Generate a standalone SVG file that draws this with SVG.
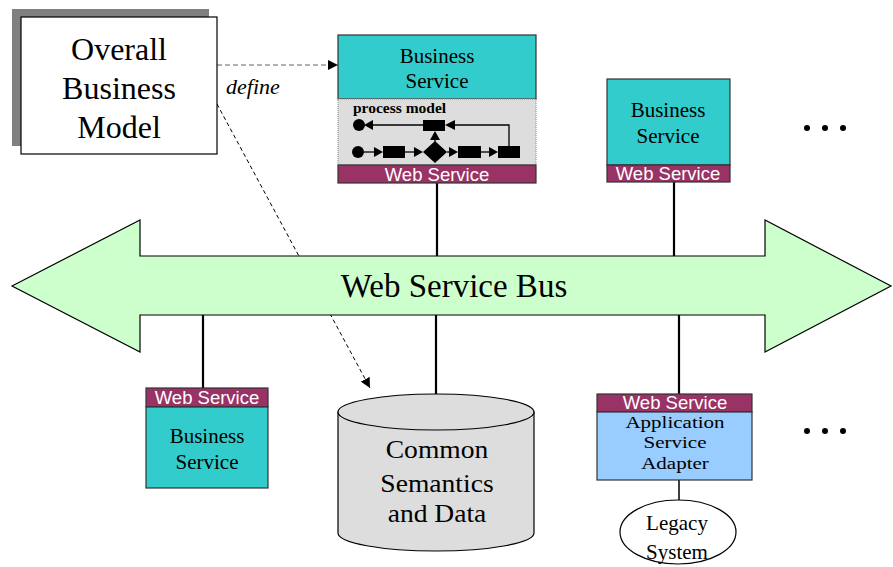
<svg xmlns="http://www.w3.org/2000/svg" width="893" height="567" viewBox="0 0 893 567">
  <style>
    .serif { font-family: "Liberation Serif", "Times New Roman", serif; fill: #000; }
    .ws { font-family: "Liberation Sans", Arial, sans-serif; fill: #fff; font-size: 18.5px; text-anchor: middle; }
    .teal { fill: #33cccc; stroke: #333; stroke-width: 1.2; }
    .wsbar { fill: #993366; stroke: #333; stroke-width: 1.2; }
    .link { stroke: #000; stroke-width: 2.2; fill: none; }
    .pm { fill: #000; }
    .pmline { stroke: #000; stroke-width: 1.3; fill: none; }
  </style>
  <defs>
    <marker id="arrow" viewBox="0 0 10 10" refX="10" refY="5" markerWidth="10" markerHeight="10" markerUnits="userSpaceOnUse" orient="auto">
      <path d="M0,0 L10,5 L0,10 Z" fill="#000"/>
    </marker>
  </defs>

  <!-- dashed "define" relations (drawn under the bus) -->
  <g id="connectors-define">
    <line x1="217" y1="65" x2="338" y2="65" stroke="#666" stroke-width="1.2" stroke-dasharray="5,3" marker-end="url(#arrow)"/>
    <line x1="217" y1="104" x2="370" y2="388" stroke="#000" stroke-width="1" stroke-dasharray="4,3" marker-end="url(#arrow)"/>
    <text x="226" y="94" class="serif" font-style="italic" font-size="22">define</text>
  </g>

  <!-- vertical links to the bus -->
  <g id="connectors">
    <line class="link" x1="437" y1="183" x2="437" y2="258"/>
    <line class="link" x1="674" y1="182" x2="674" y2="258"/>
    <line class="link" x1="203" y1="314" x2="203" y2="388"/>
    <line class="link" x1="436" y1="314" x2="436" y2="395"/>
    <line class="link" x1="679" y1="314" x2="679" y2="394"/>
    <line stroke="#000" stroke-width="1.5" x1="679" y1="480" x2="679" y2="500"/>
  </g>

  <!-- Web Service Bus -->
  <g id="bus">
    <polygon points="12,286 140,220 140,256 765,256 765,220 891,286 765,352 765,315 140,315 140,352" fill="#ccffcc" stroke="#000" stroke-width="1.2" stroke-linejoin="miter"/>
    <text x="454" y="297" class="serif" font-size="33" text-anchor="middle">Web Service Bus</text>
  </g>

  <!-- Overall Business Model -->
  <g id="overall-model">
    <rect x="12" y="9" width="197" height="137" fill="#808080"/>
    <rect x="21" y="17" width="196" height="137" fill="#fff" stroke="#000" stroke-width="1.2"/>
    <g class="serif" font-size="32" text-anchor="middle">
      <text x="119" y="60">Overall</text>
      <text x="119" y="99">Business</text>
      <text x="119" y="138">Model</text>
    </g>
  </g>

  <!-- Business Service with process model -->
  <g id="business-service-1">
    <rect class="teal" x="338" y="35" width="198" height="64"/>
    <rect x="338" y="99" width="198" height="66" fill="#dddddd" stroke="#888" stroke-width="1" stroke-dasharray="1,1"/>
    <rect class="wsbar" x="338" y="165" width="198" height="18"/>
    <g class="serif" font-size="21" text-anchor="middle">
      <text x="437" y="63">Business</text>
      <text x="437" y="88">Service</text>
    </g>
    <text x="353" y="113" class="serif" font-size="15.5" font-weight="bold">process model</text>
    <text x="437" y="181" class="ws">Web Service</text>
    <g id="process-model">
      <!-- return path -->
      <circle class="pm" cx="359" cy="125" r="6"/>
      <line class="pmline" x1="423" y1="125" x2="371" y2="125"/>
      <polygon class="pm" points="364,125 373,120 373,130"/>
      <rect class="pm" x="423" y="120" width="22" height="11"/>
      <polyline class="pmline" points="509,146 509,125 454,125"/>
      <polygon class="pm" points="445,125 455,120 455,130"/>
      <line class="pmline" x1="435" y1="142" x2="435" y2="138"/>
      <polygon class="pm" points="435,131 430,140 440,140"/>
      <!-- main flow -->
      <circle class="pm" cx="358" cy="152" r="6"/>
      <line class="pmline" x1="364" y1="152" x2="375" y2="152"/>
      <polygon class="pm" points="383,152 374,147 374,157"/>
      <rect class="pm" x="383" y="146" width="22" height="12"/>
      <line class="pmline" x1="405" y1="152" x2="415" y2="152"/>
      <polygon class="pm" points="423,152 414,147 414,157"/>
      <polygon class="pm" points="423,152 435,141 447,152 435,163"/>
      <line class="pmline" x1="447" y1="152" x2="450" y2="152"/>
      <polygon class="pm" points="458,152 449,147 449,157"/>
      <rect class="pm" x="458" y="146" width="23" height="12"/>
      <line class="pmline" x1="481" y1="152" x2="490" y2="152"/>
      <polygon class="pm" points="498,152 489,147 489,157"/>
      <rect class="pm" x="498" y="146" width="22" height="12"/>
    </g>
  </g>

  <!-- Business Service (top right) -->
  <g id="business-service-2">
    <rect class="teal" x="607" y="79" width="123" height="86"/>
    <rect class="wsbar" x="607" y="165" width="123" height="17"/>
    <g class="serif" font-size="21" text-anchor="middle">
      <text x="668" y="117">Business</text>
      <text x="668" y="143">Service</text>
    </g>
    <text x="668" y="180" class="ws">Web Service</text>
  </g>

  <!-- Business Service (bottom left) -->
  <g id="business-service-3">
    <rect class="wsbar" x="146" y="388" width="122" height="19"/>
    <rect class="teal" x="146" y="407" width="122" height="81"/>
    <text x="207" y="404" class="ws">Web Service</text>
    <g class="serif" font-size="21" text-anchor="middle">
      <text x="207" y="443">Business</text>
      <text x="207" y="469">Service</text>
    </g>
  </g>

  <!-- Common Semantics and Data -->
  <g id="common-data">
    <path d="M338,412 L338,533 A98,18 0 0 0 534,533 L534,412 Z" fill="#dddddd" stroke="#000" stroke-width="1.2"/>
    <ellipse cx="436" cy="412" rx="98" ry="18" fill="#dddddd" stroke="#000" stroke-width="1.2"/>
    <g class="serif" font-size="26" text-anchor="middle" transform="translate(437,0) scale(1.06,1)">
      <text x="0" y="458">Common</text>
      <text x="0" y="492">Semantics</text>
      <text x="0" y="522">and Data</text>
    </g>
  </g>

  <!-- Application Service Adapter -->
  <g id="adapter">
    <rect class="wsbar" x="597" y="394" width="155" height="18"/>
    <rect x="597" y="412" width="155" height="68" fill="#99ccff" stroke="#333" stroke-width="1.2"/>
    <text x="675" y="409" class="ws" font-size="17">Web Service</text>
    <g class="serif" font-size="17.5" text-anchor="middle" transform="translate(675,0) scale(1.2,1)">
      <text x="0" y="428">Application</text>
      <text x="0" y="448">Service</text>
      <text x="0" y="469">Adapter</text>
    </g>
  </g>

  <!-- Legacy System -->
  <g id="legacy">
    <ellipse cx="678" cy="532" rx="58" ry="32" fill="#fff" stroke="#000" stroke-width="1.2"/>
    <g class="serif" font-size="21" text-anchor="middle">
      <text x="677" y="530">Legacy</text>
      <text x="677" y="559">System</text>
    </g>
  </g>

  <!-- more services -->
  <g id="more-top">
    <circle cx="807" cy="128" r="3"/>
    <circle cx="825" cy="128" r="3"/>
    <circle cx="843" cy="128" r="3"/>
  </g>
  <g id="more-bottom">
    <circle cx="807" cy="431" r="3"/>
    <circle cx="825" cy="431" r="3"/>
    <circle cx="843" cy="431" r="3"/>
  </g>
</svg>
